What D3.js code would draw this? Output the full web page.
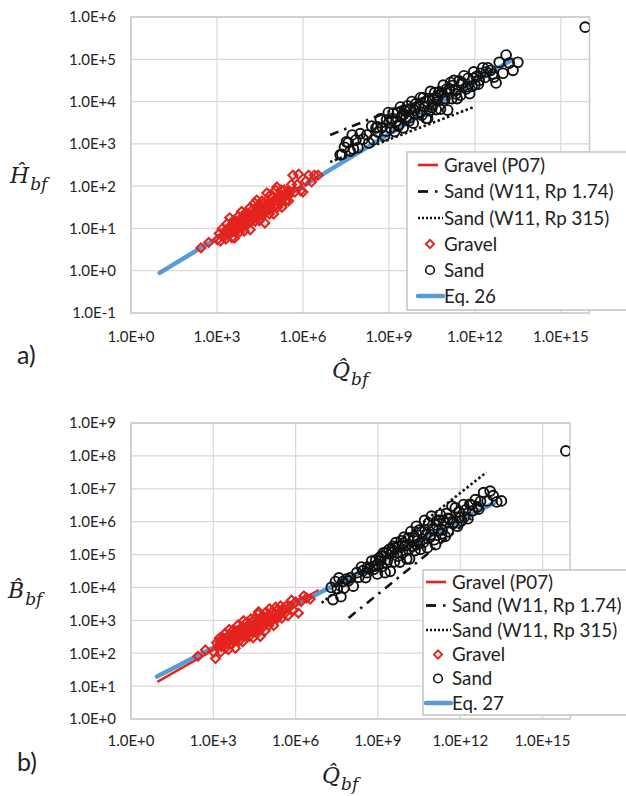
<!DOCTYPE html>
<html><head><meta charset="utf-8">
<script src="https://cdn.jsdelivr.net/npm/d3@7"></script>
<style>body{margin:0;background:#fff} svg{display:block} text{font-family:Lato, "Liberation Sans", sans-serif;fill:#222}</style>
</head><body><svg id="c" width="626" height="796"></svg>
<script>
// ---- data (log10 values) ----
const gravelLogQ = [2.44,2.71,3.02,3.08,3.12,3.18,3.22,3.27,3.31,3.35,3.38,3.42,3.44,3.48,3.52,3.55,3.58,3.61,3.64,3.68,3.71,3.74,3.77,3.80,3.83,3.86,3.89,3.92,3.95,3.98,4.01,4.04,4.07,4.10,4.13,4.16,4.19,4.22,4.25,4.28,4.31,4.34,4.37,4.39,4.42,4.45,4.48,4.51,4.54,4.57,4.60,4.63,4.65,4.67,4.71,4.74,4.77,4.80,4.83,4.86,4.89,4.92,4.95,4.98,5.02,5.05,5.09,5.12,5.16,5.20,5.24,5.27,5.31,5.35,5.40,5.45,5.50,5.55,5.60,5.65,5.72,5.80,5.85,5.92,6.00,6.10,6.20,6.30,6.53,6.40,3.30,3.40,3.50,3.60,3.70,3.78,3.85,3.93,4.00,4.08,4.15,4.23,4.30,4.38,4.45,4.53,4.60,4.68,4.75,4.84,4.93,5.00,5.10,5.20,5.30,3.55,3.90,4.20,4.50,4.80,3.25,3.45,3.65,3.75,3.88,3.97,4.05,4.12,4.18,4.27,4.35,4.43,4.52,4.58,4.66,4.72,4.82,4.90,5.07,5.15,5.25,5.38,5.50,3.62,4.40];
const gravelLogH = [0.54,0.67,0.73,0.88,0.70,0.99,0.84,0.93,0.75,1.11,0.93,0.86,1.25,1.07,0.78,1.05,1.19,0.77,1.03,1.17,0.96,1.29,1.12,0.92,1.19,1.40,1.09,1.30,0.94,1.22,1.38,1.08,1.31,1.20,1.48,0.97,1.32,1.43,1.20,1.32,1.61,1.17,1.45,1.67,1.31,1.56,1.18,1.47,1.40,1.65,1.31,1.58,1.42,1.13,1.65,1.84,1.44,1.61,1.34,1.79,1.59,1.46,1.73,1.34,1.68,1.91,1.98,1.50,1.78,1.62,1.91,1.50,1.77,1.91,1.65,1.87,1.65,1.87,2.04,2.26,1.86,2.04,2.28,1.89,1.86,2.12,2.26,2.10,2.26,2.26,0.95,0.88,1.05,0.95,1.12,1.02,1.20,1.08,1.26,1.15,1.30,1.22,1.38,1.27,1.42,1.33,1.50,1.40,1.55,1.47,1.62,1.52,1.70,1.60,1.78,0.92,1.18,1.18,1.45,1.58,0.80,1.02,0.98,1.15,1.05,1.25,1.12,1.30,1.22,1.35,1.26,1.40,1.36,1.48,1.40,1.52,1.50,1.60,1.58,1.70,1.66,1.80,1.78,1.10,1.30];
const gravelLogB = [1.91,2.10,2.03,1.84,2.32,2.20,2.46,2.04,2.35,2.47,2.23,2.60,2.16,2.38,2.51,2.11,2.72,2.38,2.53,2.28,2.70,2.51,2.38,2.15,2.68,2.46,2.85,2.62,2.38,2.69,2.58,2.80,2.35,2.99,2.66,2.77,2.53,2.94,2.66,2.84,2.51,2.80,3.04,2.67,2.96,2.47,2.83,3.04,2.71,2.95,2.61,3.19,3.26,2.83,2.51,3.07,2.93,3.14,2.81,3.05,2.68,3.25,2.99,3.14,2.84,3.35,3.12,2.98,3.28,2.84,3.21,3.40,3.04,3.33,3.15,3.44,3.07,3.37,3.21,3.43,3.14,3.42,3.61,3.31,3.56,3.22,3.57,3.74,3.65,3.68,2.20,2.42,2.30,2.55,2.40,2.60,2.48,2.66,2.52,2.72,2.58,2.79,2.66,2.86,2.72,2.90,2.78,2.97,2.85,3.05,2.92,3.12,3.00,3.20,3.10,2.35,2.58,2.62,2.88,2.95,2.33,2.28,2.50,2.44,2.62,2.55,2.68,2.60,2.74,2.68,2.80,2.74,2.88,2.82,2.92,2.88,3.00,2.95,3.10,3.05,3.18,3.16,3.28,2.40,2.76];

const sandLogQ = [7.30,7.36,7.45,7.52,7.58,7.65,7.72,7.76,7.85,7.92,8.00,8.10,8.23,8.30,8.40,8.46,8.55,8.62,8.70,8.77,8.85,8.92,8.98,9.05,9.10,9.15,9.20,9.26,9.30,9.35,9.40,9.45,9.50,9.55,9.60,9.65,9.70,9.75,9.80,9.85,9.90,9.95,10.00,10.05,10.10,10.15,10.20,10.25,10.30,10.35,10.40,10.45,10.50,10.55,10.60,10.65,10.70,10.75,10.80,10.85,10.90,10.95,11.00,11.05,11.10,11.15,11.20,11.27,11.32,11.38,11.45,11.50,11.56,11.62,11.70,11.76,11.82,11.90,11.96,12.05,12.12,12.20,12.28,12.35,12.45,12.55,12.67,12.74,12.85,12.98,13.09,13.20,13.33,13.50,15.85,8.60,8.90,9.12,9.32,9.52,9.72,9.92,10.12,10.32,10.52,10.72,10.92,11.12,11.34,11.55,11.75,11.95,12.15,12.40,12.62,9.00,9.62,10.42,11.22,12.00];
const sandLogH = [2.74,2.75,2.92,3.05,3.03,2.83,3.21,2.88,3.09,2.91,3.24,3.11,3.21,3.02,3.42,3.10,3.38,3.28,3.59,3.39,3.19,3.57,3.74,3.37,3.55,3.73,3.29,3.54,3.73,3.45,3.87,3.67,3.38,3.78,3.62,3.90,3.54,3.82,4.00,3.49,3.79,3.95,3.72,3.91,4.09,3.68,4.09,3.88,3.60,3.60,4.07,4.24,3.86,4.06,4.21,3.81,4.08,4.23,3.82,4.21,4.39,4.07,4.29,3.80,4.28,4.45,4.07,4.50,4.26,4.07,4.49,4.15,4.43,4.61,4.30,4.55,4.19,4.36,4.70,4.59,4.41,4.67,4.80,4.57,4.80,4.74,4.58,4.44,4.93,4.67,5.10,4.91,4.74,4.93,5.76,3.40,3.30,3.60,3.42,3.70,3.62,3.85,3.75,4.00,3.92,4.15,4.02,4.30,4.18,4.45,4.35,4.55,4.50,4.70,4.65,3.50,3.80,3.78,4.38,4.40];
const sandLogB = [4.00,3.63,4.18,3.96,4.29,3.72,4.18,3.98,4.25,4.20,4.30,4.04,4.45,4.31,4.62,4.51,4.30,4.62,4.58,4.80,4.55,4.83,4.41,4.90,4.82,4.64,5.05,4.45,5.06,4.84,5.15,4.49,5.06,5.25,4.78,5.36,5.06,5.25,4.77,5.42,5.05,5.53,5.27,4.87,5.50,4.87,5.70,5.25,5.49,5.12,5.86,5.42,5.74,5.16,5.69,5.36,6.04,5.61,5.21,5.96,5.53,6.17,5.78,5.45,5.30,6.02,5.73,6.21,5.63,6.03,5.55,6.25,5.69,6.08,6.47,5.95,6.42,5.86,6.29,6.03,6.52,6.36,6.09,6.53,6.33,6.67,6.38,6.62,6.88,6.63,6.93,6.79,6.60,6.63,8.15,4.45,4.65,4.95,4.75,5.15,4.95,5.35,5.15,5.55,5.35,5.75,5.60,5.90,5.75,6.10,5.98,6.30,6.15,6.50,6.45,4.70,5.20,5.30,6.05,6.12];

// lines: [log10 Q, log10 value]
const gravelP07H = [[2.0,0.36],[6.8,2.33]];
const sandW11Rp174H = [[6.95,3.21],[11.5,4.44]];
const sandW11Rp315H = [[6.95,2.57],[11.96,3.87]];
const eq26 = [[1.0,-0.05],[4.0,1.18],[7.0,2.41],[10.0,3.64],[13.3,4.99]];

const gravelP07B = [[0.96,1.13],[6.84,3.92]];
const sandW11Rp174B = [[7.93,3.07],[12.4,6.10]];
const sandW11Rp315B = [[6.95,3.53],[12.95,7.50]];
const eq27 = [[0.95,1.29],[4.0,2.60],[7.0,3.89],[10.0,5.18],[13.3,6.60]];

const xTickExps = [0,3,6,9,12,15];
const hTickExps = [-1,0,1,2,3,4,5,6];
const bTickExps = [0,1,2,3,4,5,6,7,8,9];
const legendLabelsA = ["Gravel (P07)","Sand (W11, Rp 1.74)","Sand (W11, Rp 315)","Gravel","Sand","Eq. 26"];
const legendLabelsB = ["Gravel (P07)","Sand (W11, Rp 1.74)","Sand (W11, Rp 315)","Gravel","Sand","Eq. 27"];

// ---- styles ----
const RED = "#e5231e", BLUE = "#5b9bd5", GRID = "#ddd6d6", BORDER = "#cfc8c8";
const svg = d3.select("#c");
const fmt = e => "1.0E" + (e < 0 ? "-" : "+") + Math.abs(e);

function panel(o) {
  const x = d3.scaleLog().domain([1, 1e16]).range(o.xr);
  const y = d3.scaleLog().domain(o.yd).range(o.yr);
  const g = svg.append("g");
  const [x0, x1] = o.xr, [yb, yt] = o.yr;
  g.selectAll(".hg").data(o.yTicks).join("line")
    .attr("x1", x0).attr("x2", x1).attr("y1", d => y(10 ** d)).attr("y2", d => y(10 ** d))
    .attr("stroke", GRID).attr("stroke-width", 1.2);
  g.selectAll(".vg").data(xTickExps).join("line")
    .attr("y1", yt).attr("y2", yb).attr("x1", d => x(10 ** d)).attr("x2", d => x(10 ** d))
    .attr("stroke", GRID).attr("stroke-width", 1.2);
  g.append("rect").attr("x", x0).attr("y", yt).attr("width", x1 - x0).attr("height", yb - yt)
    .attr("fill", "none").attr("stroke", BORDER).attr("stroke-width", 1.5);
  g.selectAll(".yl").data(o.yTicks).join("text")
    .attr("x", 116).attr("y", d => y(10 ** d)).attr("dy", "0.36em")
    .attr("text-anchor", "end").attr("font-size", 15).text(fmt);
  g.selectAll(".xl").data(xTickExps).join("text")
    .attr("x", d => x(10 ** d)).attr("y", o.xLabY)
    .attr("text-anchor", "middle").attr("font-size", 15).text(fmt);

  const clipId = "clip" + o.id;
  svg.append("clipPath").attr("id", clipId).append("rect")
    .attr("x", x0).attr("y", yt).attr("width", x1 - x0).attr("height", yb - yt);
  const m = g.append("g").attr("clip-path", `url(#${clipId})`);
  const line = d3.line().x(d => x(10 ** d[0])).y(d => y(10 ** d[1]));
  m.append("path").attr("d", line(o.p07)).attr("fill", "none").attr("stroke", RED).attr("stroke-width", 2.4);
  m.append("path").attr("d", line(o.rp174)).attr("fill", "none").attr("stroke", "#111").attr("stroke-width", 2.6).attr("stroke-dasharray", "9,6,2.5,6");
  m.append("path").attr("d", line(o.rp315)).attr("fill", "none").attr("stroke", "#111").attr("stroke-width", 2.6).attr("stroke-dasharray", "2.5,2.5");
  m.append("path").attr("d", line(o.eq)).attr("fill", "none").attr("stroke", BLUE).attr("stroke-width", 4.5).attr("stroke-linecap", "round");

  const diamond = d3.symbol(d3.symbolSquare, 40)();
  const gPts = gravelLogQ.map((q, i) => [q, o.gv[i]]);
  m.selectAll(".gd").data(gPts).join("path").attr("d", diamond)
    .attr("transform", d => `translate(${x(10 ** d[0])},${y(10 ** d[1])}) rotate(45)`)
    .attr("fill", "none").attr("stroke", RED).attr("stroke-width", 2.1);
  const sPts = sandLogQ.map((q, i) => [q, o.sv[i]]);
  m.selectAll(".sc").data(sPts).join("circle")
    .attr("cx", d => x(10 ** d[0])).attr("cy", d => y(10 ** d[1])).attr("r", 4.9)
    .attr("fill", "none").attr("stroke", "#111").attr("stroke-width", 1.9);

  // legend
  const L = o.leg;
  const lg = svg.append("g");
  lg.append("rect").attr("x", L.x).attr("y", L.y).attr("width", 640 - L.x).attr("height", L.h)
    .attr("fill", "#fff").attr("stroke", "#c6c2c2").attr("stroke-width", 1.5);
  const ys = L.rows;
  const s0 = L.sx, tx = L.tx;
  lg.append("line").attr("x1", s0).attr("x2", s0 + 20).attr("y1", ys[0]).attr("y2", ys[0]).attr("stroke", RED).attr("stroke-width", 2.6);
  lg.append("line").attr("x1", s0).attr("x2", s0 + 10).attr("y1", ys[1]).attr("y2", ys[1]).attr("stroke", "#111").attr("stroke-width", 2.8);
  lg.append("line").attr("x1", s0 + 17).attr("x2", s0 + 19.5).attr("y1", ys[1]).attr("y2", ys[1]).attr("stroke", "#111").attr("stroke-width", 2.6);
  lg.append("line").attr("x1", s0).attr("x2", s0 + 25).attr("y1", ys[2]).attr("y2", ys[2]).attr("stroke", "#111").attr("stroke-width", 2.4).attr("stroke-dasharray", "2,2");
  lg.append("path").attr("d", d3.symbol(d3.symbolSquare, 34)()).attr("transform", `translate(${s0 + 12},${ys[3]}) rotate(45)`)
    .attr("fill", "none").attr("stroke", RED).attr("stroke-width", 1.9);
  lg.append("circle").attr("cx", s0 + 12).attr("cy", ys[4]).attr("r", 4.3).attr("fill", "none").attr("stroke", "#111").attr("stroke-width", 1.6);
  lg.append("line").attr("x1", s0).attr("x2", s0 + 25).attr("y1", ys[5]).attr("y2", ys[5]).attr("stroke", BLUE).attr("stroke-width", 4.5).attr("stroke-linecap", "round");
  lg.selectAll(".lt").data(o.labels).join("text")
    .attr("x", tx).attr("y", (d, i) => ys[i]).attr("dy", "0.36em").attr("font-size", 18.8).text(d => d);

  // axis titles
  const yt1 = svg.append("text").attr("x", o.yTitle[0]).attr("y", o.yTitle[1])
    .style("font-family", "'DejaVu Serif', serif").attr("font-style", "italic").attr("font-size", 22);
  yt1.append("tspan").text(o.yLetter);
  yt1.append("tspan").attr("dy", 7).attr("font-size", 17).attr("dx", 1).text("bf");
  const xt = svg.append("text").attr("x", o.xTitle[0]).attr("y", o.xTitle[1])
    .style("font-family", "'DejaVu Serif', serif").attr("font-style", "italic").attr("font-size", 22);
  xt.append("tspan").text("Q\u0302");
  xt.append("tspan").attr("dy", 7).attr("font-size", 17).attr("dx", 1).text("bf");
  svg.append("text").attr("x", 17).attr("y", o.tagY).attr("font-size", 25).text(o.tag);
}

panel({
  id: "a", xr: [131, 589.5], yd: [0.1, 1e6], yr: [313, 17], yTicks: hTickExps, xLabY: 342,
  p07: gravelP07H, rp174: sandW11Rp174H, rp315: sandW11Rp315H, eq: eq26,
  gv: gravelLogH, sv: sandLogH, labels: legendLabelsA,
  leg: { x: 407, y: 152, h: 158, rows: [165, 191.5, 218, 244, 270, 296], sx: 418, tx: 444 },
  yLetter: "\u0124", yTitle: [10, 183], xTitle: [332, 378], tag: "a)", tagY: 364
});
panel({
  id: "b", xr: [131, 570], yd: [1, 1e9], yr: [719, 423], yTicks: bTickExps, xLabY: 746,
  p07: gravelP07B, rp174: sandW11Rp174B, rp315: sandW11Rp315B, eq: eq27,
  gv: gravelLogB, sv: sandLogB, labels: legendLabelsB,
  leg: { x: 423, y: 570, h: 145, rows: [582, 605.5, 630, 654.5, 678.5, 703], sx: 426, tx: 452 },
  yLetter: "B\u0302", yTitle: [8, 598], xTitle: [322, 783], tag: "b)", tagY: 771
});
</script></body></html>
